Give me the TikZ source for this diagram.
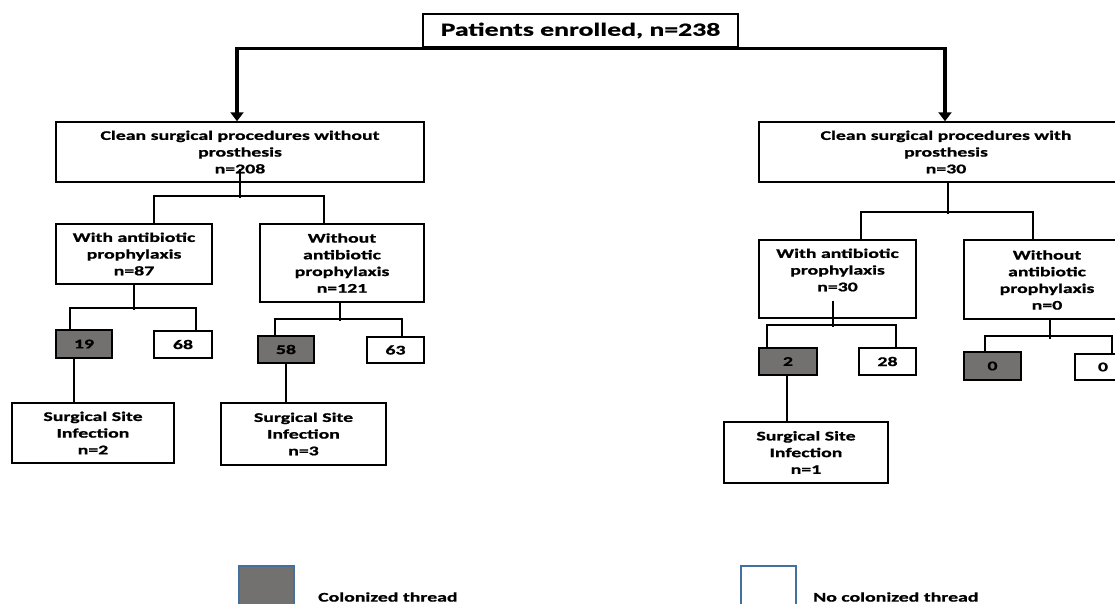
\documentclass[tikz,border=0pt]{standalone}
\usepackage{fontspec}
\usetikzlibrary{arrows.meta}
\newfontfamily\cf{Carlito}[FakeStretch=1.5, FakeBold=1]
\definecolor{fillg}{RGB}{115,112,112}
\definecolor{legb}{RGB}{65,113,156}
\begin{document}
\begin{tikzpicture}[x=1pt,y=-1pt,
  txt/.style={font=\cf\bfseries\fontsize{13.2}{16.7}\selectfont, align=center, inner sep=0pt, text=black},
  box/.style={txt, draw=black, line width=1.5pt, fill=white},
  gbox/.style={box, fill=fillg},
  conn/.style={line width=1.8pt, draw=black},
  bigconn/.style={line width=3.5pt, draw=black, -{Triangle[width=13pt,length=9pt]}},
  legbox/.style={draw=legb, line width=1.2pt, minimum width=55pt, minimum height=55pt, inner sep=0pt},
]
\useasboundingbox (0,0) rectangle (1115,603);
\clip (0,0) rectangle (1115,603);

% top
\node[box, font=\cf\bfseries\fontsize{18.5}{22}\selectfont, minimum width=315pt, minimum height=33pt] (top) at (580.5,30.5) {Patients enrolled, n=238};

% level 1
\node[box, minimum width=368pt, minimum height=60pt] (A) at (240,152) {Clean surgical procedures without\\prosthesis\\n=208};
\node[box, minimum width=374pt, minimum height=60pt] (D) at (946,152) {Clean surgical procedures with\\prosthesis\\n=30};

% level 2
\node[box, minimum width=156pt, minimum height=60pt] (B) at (134,254) {With antibiotic\\prophylaxis\\n=87};
\node[box, minimum width=164pt, minimum height=78pt] (C) at (342,263) {Without\\antibiotic\\prophylaxis\\n=121};
\node[box, minimum width=157pt, minimum height=78pt] (E) at (837.5,279) {};
\node[txt] (Et) at (837.5,270) {With antibiotic\\prophylaxis\\n=30};
\node[box, minimum width=166pt, minimum height=79pt] (F) at (1047,279.5) {};
\node[txt] (Ft) at (1047,280) {Without\\antibiotic\\prophylaxis\\n=0};

% level 3
\node[gbox, minimum width=56pt, minimum height=28pt] (g19) at (84,344) {19};
\node[box, minimum width=58pt, minimum height=27pt] (w68) at (183,344.5) {68};
\node[gbox, minimum width=56pt, minimum height=27pt] (g58) at (286,349.5) {58};
\node[box, minimum width=57pt, minimum height=26pt] (w63) at (395.5,350) {63};
\node[gbox, minimum width=58pt, minimum height=27pt] (g2) at (788,361.5) {2};
\node[box, minimum width=57pt, minimum height=27pt] (w28) at (887.5,361.5) {28};
\node[gbox, minimum width=57pt, minimum height=28pt] (g0) at (992.5,366) {0};
\node[box, minimum width=56pt, minimum height=26pt] (w0) at (1103,367) {0};

% level 4
\node[box, minimum width=162pt, minimum height=60pt] (s1) at (93,433) {Surgical Site\\Infection\\n=2};
\node[box, minimum width=165pt, minimum height=62pt] (s2) at (303.5,434) {Surgical Site\\Infection\\n=3};
\node[box, minimum width=164pt, minimum height=61pt] (s3) at (806,452.5) {Surgical Site\\Infection\\n=1};

% legend
\node[legbox, fill=fillg] (lg) at (266.5,593.5) {};
\node[txt, anchor=west] (lgt) at (318,597) {Colonized thread};
\node[legbox, fill=white] (lw) at (768.5,593.5) {};
\node[txt, anchor=west] (lwt) at (813,597) {No colonized thread};

% thick arrows
\draw[bigconn] ([yshift=-0.5pt]top.south) -| ([xshift=-3pt]A.north);
\draw[bigconn] ([yshift=-0.5pt]top.south) -| ([xshift=-1pt]D.north);

% A branches
\draw[conn] ([yshift=14pt]A.south) -- ++(0,29);
\draw[conn] ([xshift=19.6pt]B.north) -- ++(0,-27) -| ([xshift=-18.4pt]C.north);
% B branches
\draw[conn] (B.south) -- ++(0,25);
\draw[conn] ([xshift=-14pt]g19.north) -- ++(0,-21) -| ([xshift=13pt]w68.north);
\draw[conn] ([xshift=-10pt]g19.south) -- ([xshift=-19pt]s1.north);
% C branches
\draw[conn] ([xshift=-2pt]C.south) -- ++(0,18);
\draw[conn] ([xshift=-11pt]g58.north) -- ++(0,-16) -| ([xshift=6.5pt]w63.north);
\draw[conn] (g58.south) -- ([xshift=-17.5pt]s2.north);
% D branches
\draw[conn] ([xshift=2pt]D.south) -- ++(0,31);
\draw[conn] ([xshift=23.5pt]E.north) -- ++(0,-27) -| ([xshift=-14pt]F.north);
% E branches
\draw[conn] ([xshift=-4.5pt,yshift=18pt]E.south) -- ++(0,26);
\draw[conn] ([xshift=-21pt]g2.north) -- ++(0,-22) -| ([xshift=8.5pt]w28.north);
\draw[conn] ([xshift=-1pt]g2.south) -- ([xshift=-19pt]s3.north);
% F branches
\draw[conn] ([xshift=3pt]F.south) -- ++(0,19);
\draw[conn] ([xshift=-7.5pt]g0.north) -- ++(0,-15) -| ([xshift=9pt]w0.north);
\end{tikzpicture}
\end{document}
